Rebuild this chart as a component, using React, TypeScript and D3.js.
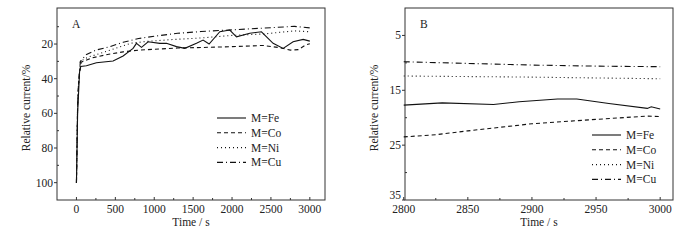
import React from "react";
import * as d3 from "d3";

// panel A data (time in s, relative current in %)
const feA = [[0,100],[15,60],[40,36],[55,33],[128,32.5],[257,30.8],[471,29.8],[600,26.9],[728,22.5],[771,19.6],[836,21.9],[921,18.7],[1071,19.6],[1157,19.6],[1286,21.5],[1393,22.5],[1543,19.6],[1628,17.7],[1705,20],[1843,12.9],[1971,11.9],[2057,15.8],[2228,13.8],[2378,12.9],[2528,19.6],[2657,22.5],[2785,18.7],[2914,17.3],[3000,18.3]];
const coA = [[0,100],[15,55],[30,40],[60,30.5],[200,28],[400,26],[600,24.5],[800,23.5],[1000,23],[1300,22.3],[1600,22],[2000,21.5],[2400,20.8],[2600,22],[2750,23.5],[2850,23.2],[2950,20.5],[3000,19.8]];
const niA = [[0,100],[15,55],[25,45],[50,30],[150,27.5],[300,25.5],[500,22.5],[700,19.5],[900,18.5],[1200,17.5],[1600,16.5],[2000,15],[2400,14.2],[2800,12.4],[3000,12.9]];
const cuA = [[0,100],[15,55],[25,45],[50,30],[130,26],[250,23.5],[430,21.5],[600,19],[800,16.8],[1000,15.5],[1300,13.8],[1600,12.8],[2000,11.8],[2400,10.8],[2800,9.8],[3000,10.7]];

// panel B data
const feB = [[2800,17.7],[2830,17.3],[2870,17.6],[2890,17.1],[2920,16.6],[2935,16.6],[2960,17.4],[2990,18.3],[2993,18.0],[3000,18.4]];
const coB = [[2800,23.5],[2825,23.1],[2850,22.4],[2900,21.1],[2950,20.3],[2990,19.7],[3000,19.8]];
const niB = [[2800,12.4],[2900,12.6],[3000,12.9]];
const cuB = [[2800,9.8],[2850,10.1],[2900,10.4],[2950,10.6],[3000,10.7]];

const names = ["M=Fe", "M=Co", "M=Ni", "M=Cu"];
const dashes = ["none", "4,3", "1,3", "6,3,1,3"];

const xTicksA = [0, 500, 1000, 1500, 2000, 2500, 3000];
const yTicksA = [20, 40, 60, 80, 100];
const xTicksB = [2800, 2850, 2900, 2950, 3000];
const yTicksB = [5, 15, 25, 35];

const font = "'Liberation Serif', 'Times New Roman', serif";
const ink = "#222";

type Pt = number[];

function Panel({ left, right, top, bottom, xDom, yDom, xTicks, xMinor, yTicks, yMinor, series, label, legend }: any) {
  const x = d3.scaleLinear().domain(xDom).range([left, right]);
  const y = d3.scaleLinear().domain(yDom).range([top, bottom]);
  const line = d3.line<Pt>().x(d => x(d[0])).y(d => y(d[1]));
  return (
    <g fontFamily={font} fill={ink}>
      <rect x={left} y={top} width={right - left} height={bottom - top} fill="none" stroke="#333" strokeWidth={1} />
      {series.map((s: Pt[], i: number) => (
        <path key={i} d={line(s) || ""} fill="none" stroke="#111" strokeWidth={1.1} strokeDasharray={dashes[i]} />
      ))}
      {xTicks.map((t: number) => (
        <g key={"x" + t}>
          <line x1={x(t)} x2={x(t)} y1={bottom} y2={bottom - 3} stroke="#333" />
          <text x={x(t)} y={bottom + 13} fontSize={11.5} textAnchor="middle">{t}</text>
        </g>
      ))}
      {xMinor.map((t: number) => (
        <line key={"xm" + t} x1={x(t)} x2={x(t)} y1={bottom} y2={bottom - 2} stroke="#333" />
      ))}
      {yTicks.map((t: number) => {
        const ty = Math.min(y(t) + 4, bottom - 1);
        return (
          <g key={"y" + t}>
            <line x1={left} x2={left - 3} y1={y(t)} y2={y(t)} stroke="#333" />
            <text x={left - 4} y={ty} fontSize={11.5} textAnchor="end">{t}</text>
          </g>
        );
      })}
      {yMinor.map((t: number) => (
        <line key={"ym" + t} x1={left} x2={left + 2} y1={y(t)} y2={y(t)} stroke="#333" />
      ))}
      <text x={(left + right) / 2} y={bottom + 26} fontSize={11.5} textAnchor="middle">Time / s</text>
      <text transform={`translate(${left - 27},${(top + bottom) / 2 + 4}) rotate(-90)`} fontSize={11.5} textAnchor="middle">Relative current/%</text>
      <text x={left + 15} y={top + 20} fontSize={11.5}>{label}</text>
      {names.map((n, i) => (
        <g key={n}>
          <line x1={legend.x} x2={legend.x + 29} y1={legend.y + i * 14.8} y2={legend.y + i * 14.8} stroke="#111" strokeWidth={1.1} strokeDasharray={dashes[i]} />
          <text x={legend.x + 34} y={legend.y + i * 14.8 + 4} fontSize={11.5}>{n}</text>
        </g>
      ))}
    </g>
  );
}

export default function App() {
  return (
    <svg width={700} height={240} style={{ position: "absolute", left: 0, top: 0, background: "#fff" }}>
      <Panel left={57} right={325} top={8} bottom={200} xDom={[-250, 3195]} yDom={[-0.8, 110]}
        xTicks={xTicksA} xMinor={[250, 750, 1250, 1750, 2250, 2750]}
        yTicks={yTicksA} yMinor={[10, 30, 50, 70, 90]}
        series={[feA, coA, niA, cuA]} label="A" legend={{ x: 217, y: 118 }} />
      <Panel left={405} right={673} top={8} bottom={200} xDom={[2801, 3010]} yDom={[0, 35]}
        xTicks={xTicksB} xMinor={[2825, 2875, 2925, 2975]}
        yTicks={yTicksB} yMinor={[10, 20, 30]}
        series={[feB, coB, niB, cuB]} label="B" legend={{ x: 592, y: 135 }} />
    </svg>
  );
}
